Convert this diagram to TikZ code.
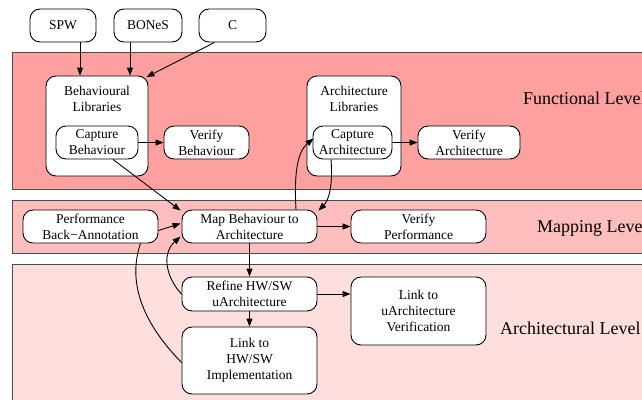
\documentclass[tikz,border=0pt]{standalone}
\usepackage{fontspec}
\setmainfont{Liberation Serif}
\usetikzlibrary{arrows.meta}
\definecolor{funcfill}{RGB}{255,160,160}
\definecolor{mapfill}{RGB}{255,190,190}
\definecolor{archfill}{RGB}{255,222,222}
\tikzset{
  box/.style={draw, fill=white, rounded corners=10pt, line width=0.9pt,
    align=center, inner sep=0pt, font=\fontsize{13.5}{16}\selectfont},
  cluster/.style={draw=black!70, line width=1pt},
  arr/.style={-{Triangle[length=8pt,width=6pt]}, line width=0.9pt},
  plain/.style={line width=0.9pt},
  levellabel/.style={anchor=west, inner sep=0pt, font=\fontsize{18}{20}\selectfont},
}
\begin{document}
\begin{tikzpicture}[x=1pt,y=-1pt]
\useasboundingbox (0,0) rectangle (642,399);
\clip (0,0) rectangle (642,399);

% level clusters
\draw[cluster, fill=funcfill] (12,52) rectangle (700,189);
\draw[cluster, fill=mapfill] (12,200) rectangle (700,253);
\draw[cluster, fill=archfill] (12,264) rectangle (700,430);
\node[levellabel] (flevel) at (523,98) {Functional Level};
\node[levellabel] (mlevel) at (537,228) {Mapping Level};
\node[levellabel] (alevel) at (500,328) {Architectural Level};

% input languages
\node[box, minimum width=66pt, minimum height=33pt] (spw) at (63,25.5) {SPW};
\node[box, minimum width=68pt, minimum height=33pt] (bones) at (148,25.5) {BONeS};
\node[box, minimum width=67pt, minimum height=33pt] (cc) at (232.5,25.5) {C};

% functional level
\node[box, minimum width=102pt, minimum height=100pt] (behlib) at (97,126) {};
\node[anchor=north, align=center, font=\fontsize{13.5}{16}\selectfont] (behlibtxt)
  at ([yshift=-7pt]behlib.north) {Behavioural\\Libraries};
\node[box, minimum width=82pt, minimum height=33pt] (capb) at (97,142.5) {Capture\\Behaviour};
\node[box, minimum width=85pt, minimum height=33pt] (verb) at (206.5,142.5) {Verify\\Behaviour};

\node[box, minimum width=94pt, minimum height=100pt] (archlib) at (354,126) {};
\node[anchor=north, align=center, font=\fontsize{13.5}{16}\selectfont] (archlibtxt)
  at ([yshift=-7pt]archlib.north) {Architecture\\Libraries};
\node[box, minimum width=79pt, minimum height=33pt] (capa) at (352.5,142.5) {Capture\\Architecture};
\node[box, minimum width=102pt, minimum height=33pt] (vera) at (469,142.5) {Verify\\Architecture};

% mapping level
\node[box, minimum width=135pt, minimum height=33pt] (pba) at (90.5,226.5) {Performance\\Back\textminus Annotation};
\node[box, minimum width=135pt, minimum height=33pt] (map) at (249.5,226.5) {Map Behaviour to\\Architecture};
\node[box, minimum width=135pt, minimum height=33pt] (verp) at (418.5,226.5) {Verify\\Performance};

% architectural level
\node[box, minimum width=135pt, minimum height=34pt] (refine) at (249.5,294) {Refine HW/SW\\uArchitecture};
\node[box, minimum width=135pt, minimum height=67pt] (linkhw) at (249.5,360.5) {Link to\\HW/SW\\Implementation};
\node[box, minimum width=135pt, minimum height=68pt] (linku) at (418.5,311) {Link to\\uArchitecture\\Verification};

% connectors
\draw[arr] ([xshift=17pt]spw.south) -- ([xshift=17pt]spw.south |- behlib.north);
\draw[arr] ([xshift=-18pt]bones.south) -- ([xshift=-18pt]bones.south |- behlib.north);
\draw[arr] ([xshift=-18pt]cc.south) -- ([xshift=-2pt,yshift=-1.5pt]behlib.north east);
\draw[arr] (capb.east) -- (verb.west);
\draw[arr] (capa.east) -- (vera.west);
\draw[arr] ([xshift=16pt]capb.south) -- ([xshift=-1pt,yshift=-1pt]map.north west);
\draw[arr] ([xshift=46.5pt]map.north) .. controls (294,175) and (297,152) .. ([xshift=1pt,yshift=4pt]capa.west);
\draw[arr] ([xshift=-21.5pt]capa.south) .. controls (333,185) and (329,200) .. ([xshift=1pt,yshift=-1pt]map.north east);
\draw[arr] (map.east) -- (verp.west);
\draw[arr] ([yshift=-4pt]pba.east) -- ([xshift=-1pt,yshift=3pt]map.west);
\draw[arr] (map.south) -- (refine.north);
\draw[arr] (refine.south) -- (linkhw.north);
\draw[arr] (refine.east) -- (refine.east -| linku.west);
\draw[arr] (refine.west) .. controls (168,280) and (160,255) .. ([xshift=-1pt,yshift=-10pt]map.west);
\draw[plain] ([yshift=-2pt]linkhw.west) .. controls (140,320) and (128,280) .. ([xshift=50pt]pba.south);
\end{tikzpicture}
\end{document}
